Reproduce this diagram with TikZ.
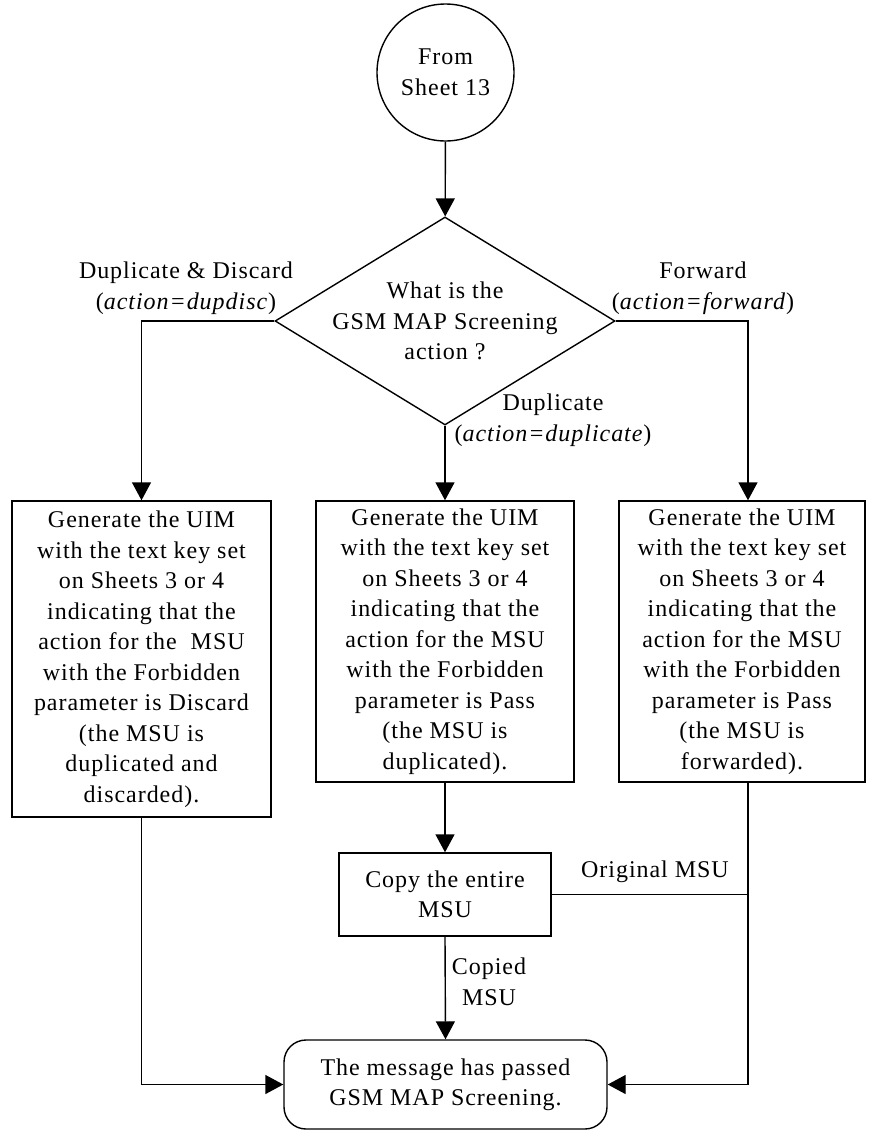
\documentclass[tikz,border=0pt]{standalone}
\usepackage{fontspec}
\setmainfont{Liberation Serif}[LetterSpace=4]
\usetikzlibrary{arrows.meta,shapes.geometric}

\begin{document}
\begin{tikzpicture}[x=1pt, y=-1pt, >={Triangle[length=18pt,width=19pt]},
    line width=1.4pt,
    every node/.style={font=\fontsize{24}{30.5}\selectfont, align=center},
    box/.style={draw, rectangle, inner sep=0pt},
    lbl/.style={inner sep=0pt}]

    \useasboundingbox (0,0) rectangle (871,1130);

    % off-page connector and the decision
    \node[draw, circle, minimum size=137pt, inner sep=0pt] (from) at (445.5,72.5) {From\\Sheet 13};
    \node[draw, diamond, aspect=1.63, inner sep=-3pt, minimum width=340pt, minimum height=208pt] (act) at (445,321)
        {What is the\\GSM MAP Screening\\action ?};

    % one box for each action
    \node[box, minimum width=259pt, minimum height=316pt] (disc) at (141.5,659)
        {Generate the UIM\\with the text key set\\on Sheets 3 or 4\\indicating that the\\action for the \ MSU\\with the Forbidden\\parameter is Discard\\(the MSU is\\duplicated and\\discarded).};
    \node[box, minimum width=258pt, minimum height=281pt] (dup) at (445,641.5)
        {Generate the UIM\\with the text key set\\on Sheets 3 or 4\\indicating that the\\action for the MSU\\with the Forbidden\\parameter is Pass\\(the MSU is\\duplicated).};
    \node[box, minimum width=246pt, minimum height=281pt] (fwd) at (742,641.5)
        {Generate the UIM\\with the text key set\\on Sheets 3 or 4\\indicating that the\\action for the MSU\\with the Forbidden\\parameter is Pass\\(the MSU is\\forwarded).};
    \coordinate (fwdin) at ([xshift=6pt]fwd.north);
    \coordinate (fwdout) at ([xshift=6pt]fwd.south);

    \node[box, minimum width=212pt, minimum height=83pt] (copy) at (445,894.5) {Copy the entire\\MSU};
    \node[draw, rounded corners=22pt, minimum width=323pt, minimum height=89pt, inner sep=0pt] (done) at (445.5,1084.5)
        {The message has passed\\GSM MAP Screening.};

    % branch labels
    \node[lbl] (ldisc) at (186,288) {Duplicate \& Discard\\(\textit{action=dupdisc})};
    \node[lbl] (lfwd) at (703,288) {Forward\\(\textit{action=forward})};
    \node[lbl] (ldup) at (553,420) {Duplicate\\(\textit{action=duplicate})};
    \node[lbl] (lorig) at (655,872) {Original MSU};
    \node[lbl] (lcopied) at (489,982) {Copied\\MSU};

    \draw[->] (from) -- (act);
    \draw[->] (act.west) -| (disc.north);
    \draw[->] (act.east) -| (fwdin);
    \draw[->] (act.south) -- (dup.north);
    \draw[->] (dup.south) -- (copy.north);
    \draw[->] (copy.south) -- (done.north);
    \draw[->] (disc.south) |- (done.west);
    \draw[->] (fwdout) |- (done.east);
    \draw (copy.east) -- (copy.east -| fwdout);

\end{tikzpicture}
\end{document}
